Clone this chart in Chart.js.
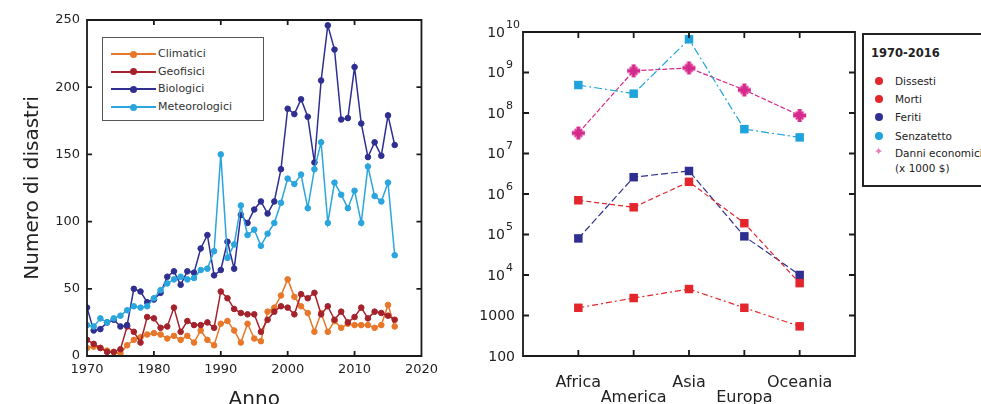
<!DOCTYPE html>
<html>
<head>
<meta charset="utf-8">
<script src="https://cdn.jsdelivr.net/npm/chart.js@4/dist/chart.umd.min.js"></script>
<style>
  body { margin: 0; width: 981px; height: 404px; overflow: hidden; position: relative; background: #fff; font-family: "DejaVu Sans", sans-serif; color: #222; }
  #sx { position: absolute; left: 0; top: 0; }
  #dx { position: absolute; left: 460px; top: 0; }
  .box { position: absolute; background: #fff; }
  .riga { position: absolute; left: 0; height: 14px; width: 100%; }
  .riga span { position: absolute; }
</style>
</head>
<body>
<canvas id="sx" width="444" height="420"></canvas>
<canvas id="dx" width="414" height="404"></canvas>

<div class="box" id="lg1" style="left:102px;top:37px;width:160px;height:82px;border:1px solid #555;"></div>
<div class="box" id="lg2" style="left:862px;top:33px;width:130px;height:150px;border:2px solid #222;"></div>

<script>
"use strict";
// anni del grafico di sinistra
const anni = [1970, 1971, 1972, 1973, 1974, 1975, 1976, 1977, 1978, 1979,
  1980, 1981, 1982, 1983, 1984, 1985, 1986, 1987, 1988, 1989,
  1990, 1991, 1992, 1993, 1994, 1995, 1996, 1997, 1998, 1999,
  2000, 2001, 2002, 2003, 2004, 2005, 2006, 2007, 2008, 2009,
  2010, 2011, 2012, 2013, 2014, 2015, 2016];

const climatici = [6, 7, 6, 4, 3, 2, 8, 12, 14, 16,
  17, 16, 13, 15, 12, 15, 10, 19, 12, 8,
  24, 26, 19, 10, 24, 13, 11, 33, 36, 45,
  57, 44, 37, 32, 18, 32, 18, 26, 21, 24,
  23, 23, 23, 21, 23, 38, 22];
const geofisici = [12, 9, 6, 3, 3, 5, 22, 18, 10, 29,
  28, 21, 22, 36, 18, 26, 23, 23, 25, 21,
  48, 43, 35, 32, 31, 31, 18, 27, 33, 37,
  36, 31, 46, 43, 47, 31, 37, 27, 33, 25,
  29, 36, 28, 33, 32, 30, 27];
const biologici = [36, 19, 20, 25, 27, 22, 23, 50, 48, 40,
  42, 47, 59, 63, 53, 63, 62, 80, 90, 60,
  64, 85, 65, 105, 99, 109, 115, 106, 115, 139,
  184, 180, 191, 178, 144, 205, 246, 228, 176, 177,
  215, 173, 148, 159, 149, 179, 157];
const meteorologici = [23, 22, 28, 25, 28, 30, 34, 37, 36, 37,
  43, 49, 54, 57, 59, 57, 58, 64, 65, 78,
  150, 73, 83, 112, 90, 94, 82, 91, 99, 114,
  132, 128, 135, 110, 139, 159, 99, 129, 120, 110,
  123, 99, 141, 119, 115, 129, 75];

// grafico di destra (scala logaritmica)
const continenti = ['Africa', 'America', 'Asia', 'Europa', 'Oceania'];
const dissesti = [7e5, 4.7e5, 2e6, 1.9e5, 6.3e3];
const morti = [1550, 2700, 4500, 1550, 540];
const feriti = [8e4, 2.6e6, 3.7e6, 9e4, 1e4];
const senzatetto = [4.9e8, 3e8, 6.6e9, 4e7, 2.5e7];
const danni = [3.2e7, 1.1e9, 1.3e9, 3.7e8, 8.7e7];
const tickLog = [100, 1000, 1e4, 1e5, 1e6, 1e7, 1e8, 1e9, 1e10];

const ARANCIO = '#e8772a', ROSSOSCURO = '#a3222b', BLU = '#2f2f92', AZZURRO = '#2aa5de';
const ROSSO = '#e2262c', MAGENTA = '#d62a8d', CIANO = '#1ea3dd';

Chart.defaults.font.family = '"DejaVu Sans", sans-serif';
Chart.defaults.color = '#222';

// riquadro con tacche verso l'interno su tutti e quattro i lati
const cornice = {
  id: 'cornice',
  afterDraw(chart, args, o) {
    const { ctx, chartArea: a } = chart;
    const sx = chart.scales.x, sy = chart.scales.y;
    ctx.save();
    ctx.strokeStyle = '#1a1a1a';
    ctx.lineWidth = o.spessore;
    ctx.beginPath();
    ctx.rect(a.left, a.top, a.right - a.left, a.bottom - a.top);
    sx.ticks.forEach(t => {
      if (t.value <= sx.min || t.value >= sx.max) return;
      const x = sx.getPixelForValue(t.value);
      ctx.moveTo(x, a.top); ctx.lineTo(x, a.top + o.tacca);
      ctx.moveTo(x, a.bottom); ctx.lineTo(x, a.bottom - o.tacca);
    });
    sy.ticks.forEach(t => {
      if (t.value <= sy.min || t.value >= sy.max) return;
      const y = sy.getPixelForValue(t.value);
      ctx.moveTo(a.left, y); ctx.lineTo(a.left + o.tacca, y);
      ctx.moveTo(a.right, y); ctx.lineTo(a.right - o.tacca, y);
    });
    ctx.stroke();
    ctx.restore();
  }
};

// etichette 10^n sull'asse logaritmico
const esponenti = {
  id: 'esponenti',
  afterDraw(chart) {
    const { ctx } = chart;
    const s = chart.scales.y;
    ctx.save();
    ctx.fillStyle = '#222';
    ctx.textBaseline = 'middle';
    s.ticks.forEach(t => {
      const y = s.getPixelForValue(t.value);
      const e = Math.round(Math.log10(t.value));
      if (e >= 4) {
        ctx.font = '14px "DejaVu Sans"';
        ctx.textAlign = 'right';
        ctx.fillText('10', s.right - 18, y + 1);
        ctx.font = '11px "DejaVu Sans"';
        ctx.textAlign = 'left';
        ctx.fillText(String(e), s.right - 17, y - 7);
      } else {
        ctx.font = '14px "DejaVu Sans"';
        ctx.textAlign = 'right';
        ctx.fillText(String(t.value), s.right - 8, y + 1);
      }
    });
    ctx.restore();
  }
};

function serie(valori) {
  return anni.map((a, i) => ({ x: a, y: valori[i] }));
}

function linea(label, valori, colore, ordine) {
  return {
    label, data: serie(valori), order: ordine,
    borderColor: colore, backgroundColor: colore,
    borderWidth: 1.5, pointRadius: 2.8, pointBorderWidth: 1,
    pointBackgroundColor: colore, pointBorderColor: colore
  };
}

new Chart(document.getElementById('sx'), {
  type: 'line',
  data: {
    datasets: [
      linea('Climatici', climatici, ARANCIO, 3),
      linea('Geofisici', geofisici, ROSSOSCURO, 2),
      linea('Biologici', biologici, BLU, 1),
      linea('Meteorologici', meteorologici, AZZURRO, 0)
    ]
  },
  options: {
    responsive: false, animation: false, devicePixelRatio: 1,
    layout: { padding: { top: 20, right: 0, left: 0, bottom: 0 } },
    plugins: { legend: { display: false }, tooltip: { enabled: false }, cornice: { spessore: 1.8, tacca: 5 } },
    scales: {
      x: {
        type: 'linear', min: 1970, max: 2020,
        afterFit: s => { s.height = 64; },
        grid: { display: false, drawTicks: false },
        border: { display: false },
        ticks: { stepSize: 10, padding: 6, maxRotation: 0, font: { size: 13 }, callback: v => String(v) },
        title: { display: true, text: 'Anno', font: { size: 20 }, padding: { top: 0, bottom: 8 } }
      },
      y: {
        min: 0, max: 250,
        afterFit: s => { s.width = 87; },
        grid: { display: false, drawTicks: false },
        border: { display: false },
        ticks: { stepSize: 50, padding: 7, font: { size: 13 } },
        title: { display: true, text: 'Numero di disastri', font: { size: 20 }, padding: { top: 21, bottom: 0 } }
      }
    }
  },
  plugins: [cornice]
});

const stellina = (() => {
  const c = document.createElement('canvas');
  c.width = 15; c.height = 15;
  const g = c.getContext('2d');
  g.translate(7.5, 7.5);
  g.fillStyle = MAGENTA; g.strokeStyle = MAGENTA;
  g.fillRect(-2, -6.5, 4, 13); g.fillRect(-6.5, -2, 13, 4);
  g.lineWidth = 1.8;
  g.beginPath(); g.moveTo(-3.8, -3.8); g.lineTo(3.8, 3.8); g.moveTo(3.8, -3.8); g.lineTo(-3.8, 3.8); g.stroke();
  return c;
})();

function puntiLog(valori) {
  return continenti.map((c, i) => ({ x: i + 1, y: valori[i] }));
}

function tratteggio(label, valori, colore, dash, stile) {
  return {
    label, data: puntiLog(valori),
    borderColor: colore, backgroundColor: colore, borderWidth: 1.2, borderDash: dash,
    pointStyle: stile || 'rect', pointRadius: 6, pointBorderWidth: 0,
    pointBackgroundColor: colore
  };
}

new Chart(document.getElementById('dx'), {
  type: 'line',
  data: {
    datasets: [
      tratteggio('Dissesti', dissesti, ROSSO, [5, 3]),
      tratteggio('Morti', morti, ROSSO, [6, 3, 2, 3]),
      tratteggio('Feriti', feriti, BLU, [7, 3]),
      tratteggio('Senzatetto', senzatetto, CIANO, [8, 3, 2, 3]),
      tratteggio('Danni economici (x 1000 $)', danni, MAGENTA, [5, 2], stellina)
    ]
  },
  options: {
    responsive: false, animation: false, devicePixelRatio: 1,
    layout: { padding: { top: 32, right: 0, left: 0, bottom: 0 } },
    plugins: { legend: { display: false }, tooltip: { enabled: false }, cornice: { spessore: 1.8, tacca: 6 } },
    scales: {
      x: {
        type: 'linear', min: 0, max: 6,
        afterFit: s => { s.height = 48; },
        grid: { display: false, drawTicks: false },
        border: { display: false },
        ticks: {
          stepSize: 1, padding: 19, autoSkip: false, maxRotation: 0, minRotation: 0,
          font: { size: 16, lineHeight: 0.95 },
          callback: v => {
            const nome = continenti[v - 1];
            if (!nome) return '';
            return (v % 2 === 0) ? ['', nome] : nome;
          }
        }
      },
      y: {
        type: 'logarithmic', min: 100, max: 1e10,
        afterFit: s => { s.width = 63; },
        afterBuildTicks: s => { s.ticks = tickLog.map(v => ({ value: v })); },
        grid: { display: false, drawTicks: false },
        border: { display: false },
        ticks: { display: false }
      }
    }
  },
  plugins: [cornice, esponenti]
});

// legenda del grafico a sinistra
const voci1 = [['Climatici', ARANCIO], ['Geofisici', ROSSOSCURO], ['Biologici', BLU], ['Meteorologici', AZZURRO]];
const lg1 = document.getElementById('lg1');
voci1.forEach(([testo, colore], i) => {
  const r = document.createElement('div');
  r.className = 'riga';
  r.style.top = (9 + i * 17.7) + 'px';
  r.innerHTML =
    `<span style="left:8px;top:6px;width:45px;height:2px;background:${colore}"></span>` +
    `<span style="left:27px;top:3.5px;width:7px;height:7px;border-radius:50%;background:${colore}"></span>` +
    `<span style="left:55px;top:0;font-size:11px;line-height:14px;color:#333">${testo}</span>`;
  lg1.appendChild(r);
});

// legenda del grafico a destra
const voci2 = [['Dissesti', ROSSO], ['Morti', ROSSO], ['Feriti', BLU], ['Senzatetto', CIANO], ['Danni economici', '#e57fbf']];
const lg2 = document.getElementById('lg2');
lg2.innerHTML = '<div style="position:absolute;left:7px;top:11px;font-size:11.5px;font-weight:bold;color:#222">1970-2016</div>';
voci2.forEach(([testo, colore], i) => {
  const r = document.createElement('div');
  r.className = 'riga';
  r.style.top = [39, 57, 75, 94, 111][i] + 'px';
  const segno = i < 4
    ? `<span style="left:11px;top:3px;width:8px;height:8px;border-radius:50%;background:${colore}"></span>`
    : `<span style="left:10px;top:-1px;font-size:11px;line-height:14px;color:${colore}">✦</span>`;
  r.innerHTML = segno + `<span style="left:31px;top:0;font-size:10.5px;line-height:14px;color:#222;white-space:nowrap">${testo}</span>`;
  lg2.appendChild(r);
});
const nota = document.createElement('div');
nota.style.cssText = 'position:absolute;left:31px;top:127px;font-size:10.5px;color:#222;white-space:nowrap';
nota.textContent = '(x 1000 $)';
lg2.appendChild(nota);
</script>
</body>
</html>
